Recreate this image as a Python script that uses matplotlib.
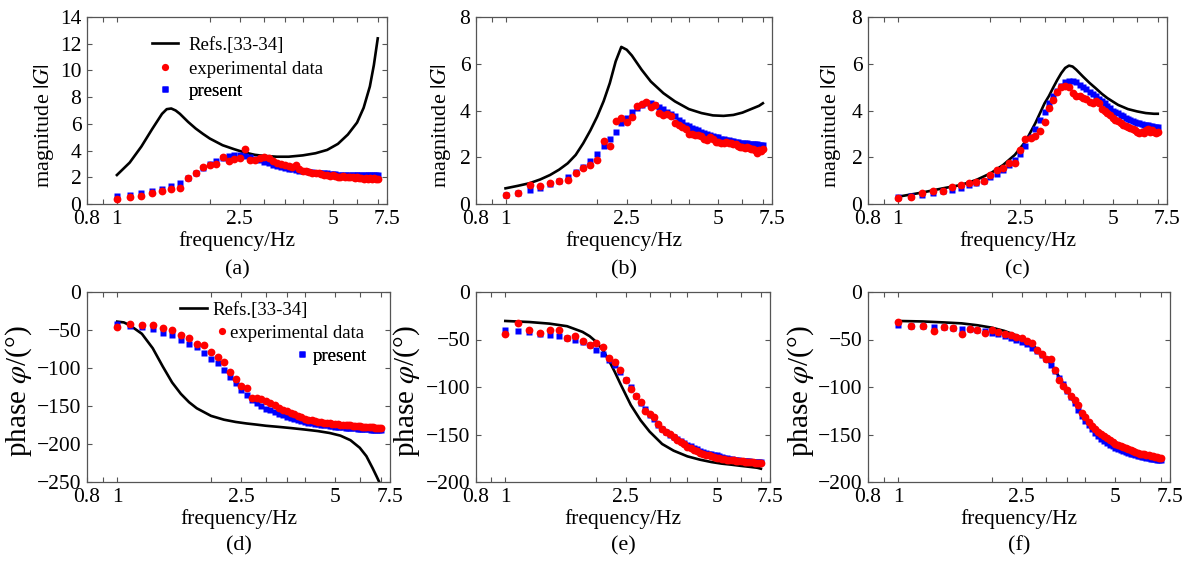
import matplotlib
matplotlib.use('Agg')
import matplotlib.pyplot as plt
from matplotlib.lines import Line2D
from matplotlib.ticker import FixedLocator, NullFormatter

plt.rcParams['font.family'] = ['Liberation Serif', 'DejaVu Serif']
plt.rcParams['mathtext.fontset'] = 'stix'
plt.rcParams['axes.unicode_minus'] = True

# measured frequencies (Hz) of the experimental / present points
freq = [1.0, 1.1, 1.2, 1.3, 1.4, 1.5, 1.6, 1.7, 1.8, 1.9,
        2.0, 2.1, 2.2, 2.3, 2.4, 2.5, 2.6, 2.7, 2.8, 2.9,
        3.0, 3.1, 3.2, 3.3, 3.4, 3.5, 3.6, 3.7, 3.8, 3.9,
        4.0, 4.1, 4.2, 4.3, 4.4, 4.5, 4.6, 4.7, 4.8, 4.9,
        5.0, 5.1, 5.2, 5.3, 5.4, 5.5, 5.6, 5.7, 5.8, 5.9,
        6.0, 6.1, 6.2, 6.3, 6.4, 6.5, 6.6, 6.7, 6.8, 6.9, 7.0]

# ---- (a) magnitude
exp_a = [0.37, 0.50, 0.62, 0.80, 1.00, 1.15, 1.20, 1.95, 2.30, 2.75,
         2.95, 3.00, 3.50, 3.25, 3.40, 3.45, 4.15, 3.30, 3.30, 3.45,
         3.55, 3.45, 3.20, 3.10, 3.00, 2.90, 2.85, 2.80, 2.90, 2.60,
         2.50, 2.45, 2.40, 2.35, 2.35, 2.30, 2.25, 2.20, 2.15, 2.10,
         2.20, 2.10, 2.00, 2.05, 2.10, 2.05, 2.00, 2.05, 2.00, 1.95,
         2.00, 1.95, 1.95, 1.90, 1.95, 1.90, 1.95, 1.90, 1.95, 1.90, 1.90]
pres_a = [0.60, 0.70, 0.80, 0.95, 1.15, 1.35, 1.60, 1.95, 2.30, 2.70,
          3.00, 3.20, 3.45, 3.60, 3.65, 3.65, 3.60, 3.50, 3.40, 3.30,
          3.15, 3.05, 2.95, 2.85, 2.80, 2.70, 2.65, 2.60, 2.55, 2.50,
          2.50, 2.45, 2.40, 2.40, 2.35, 2.35, 2.30, 2.30, 2.30, 2.25,
          2.25, 2.25, 2.20, 2.20, 2.20, 2.20, 2.20, 2.20, 2.20, 2.20,
          2.20, 2.20, 2.20, 2.15, 2.15, 2.15, 2.15, 2.15, 2.15, 2.15, 2.15]
ref_fa = [1.0, 1.1, 1.2, 1.3, 1.4, 1.45, 1.5, 1.55, 1.6, 1.7, 1.8, 1.9, 2.0, 2.2, 2.4,
          2.6, 2.8, 3.0, 3.3, 3.6, 4.0, 4.4, 4.8, 5.2, 5.6, 6.0, 6.3, 6.6, 6.8, 7.0]
ref_a = [2.17, 3.1, 4.3, 5.6, 6.75, 7.1, 7.15, 7.0, 6.75, 6.15, 5.65, 5.25, 4.9, 4.4, 4.1,
         3.85, 3.68, 3.6, 3.54, 3.54, 3.64, 3.8, 4.05, 4.5, 5.2, 6.1, 7.2, 8.8, 10.4, 12.4]

# ---- (b) magnitude
exp_b = [0.39, 0.46, 0.81, 0.79, 0.91, 0.99, 1.03, 1.34, 1.53, 1.67,
         1.89, 2.71, 2.50, 3.53, 3.67, 3.49, 3.71, 4.20, 4.29, 4.36,
         4.15, 4.25, 3.90, 3.80, 3.85, 3.75, 3.45, 3.40, 3.30, 3.20,
         3.00, 3.00, 2.95, 2.95, 2.90, 2.80, 2.75, 2.85, 2.80, 2.65,
         2.65, 2.60, 2.60, 2.65, 2.60, 2.60, 2.55, 2.55, 2.50, 2.45,
         2.45, 2.40, 2.45, 2.40, 2.35, 2.35, 2.30, 2.20, 2.30, 2.25, 2.35]
pres_b = [0.40, 0.48, 0.58, 0.70, 0.85, 1.00, 1.15, 1.35, 1.60, 1.85,
          2.15, 2.50, 2.80, 3.10, 3.45, 3.70, 3.95, 4.10, 4.22, 4.30,
          4.30, 4.25, 4.15, 4.05, 3.95, 3.85, 3.75, 3.60, 3.50, 3.40,
          3.35, 3.25, 3.20, 3.15, 3.10, 3.05, 3.00, 2.95, 2.90, 2.87,
          2.85, 2.80, 2.78, 2.75, 2.72, 2.70, 2.68, 2.66, 2.65, 2.63,
          2.62, 2.60, 2.60, 2.58, 2.57, 2.56, 2.55, 2.55, 2.54, 2.53, 2.53]
ref_fb = [1.0, 1.1, 1.2, 1.3, 1.4, 1.5, 1.6, 1.7, 1.8, 1.9, 2.0, 2.1, 2.2, 2.3, 2.4,
          2.5, 2.6, 2.8, 3.0, 3.3, 3.6, 4.0, 4.4, 4.8, 5.2, 5.6, 6.0, 6.4, 6.8, 7.0]
ref_b = [0.67, 0.78, 0.89, 1.05, 1.24, 1.47, 1.74, 2.1, 2.6, 3.15, 3.74, 4.4, 5.17, 6.1, 6.72,
         6.6, 6.35, 5.74, 5.24, 4.74, 4.39, 4.06, 3.89, 3.79, 3.77, 3.81, 3.91, 4.06, 4.2, 4.31]

# ---- (c) magnitude
exp_c = [0.24, 0.29, 0.49, 0.57, 0.56, 0.74, 0.80, 0.89, 0.96, 0.99,
         1.24, 1.46, 1.53, 1.77, 1.74, 2.29, 2.77, 2.84, 2.89, 3.13,
         3.49, 4.10, 4.46, 4.81, 5.00, 5.05, 5.00, 4.75, 4.60, 4.60,
         4.55, 4.50, 4.35, 4.30, 4.40, 4.30, 4.05, 4.00, 3.90, 3.80,
         3.70, 3.60, 3.55, 3.45, 3.40, 3.35, 3.30, 3.25, 3.20, 3.15,
         3.10, 3.05, 3.10, 3.05, 3.15, 3.20, 3.10, 3.15, 3.10, 3.05, 3.10]
pres_c = [0.30, 0.35, 0.40, 0.48, 0.55, 0.62, 0.70, 0.80, 0.90, 1.00,
          1.15, 1.30, 1.45, 1.65, 1.90, 2.15, 2.50, 2.85, 3.20, 3.60,
          3.95, 4.30, 4.60, 4.85, 5.05, 5.20, 5.25, 5.25, 5.20, 5.10,
          5.00, 4.90, 4.80, 4.70, 4.60, 4.50, 4.40, 4.30, 4.20, 4.10,
          4.00, 3.95, 3.88, 3.82, 3.76, 3.70, 3.65, 3.60, 3.56, 3.52,
          3.48, 3.45, 3.42, 3.40, 3.38, 3.36, 3.34, 3.32, 3.31, 3.30, 3.30]
ref_fc = [1.0, 1.2, 1.4, 1.6, 1.8, 2.0, 2.2, 2.4, 2.6, 2.8, 3.0, 3.1, 3.2, 3.3, 3.4,
          3.5, 3.6, 3.7, 3.8, 4.0, 4.2, 4.4, 4.6, 4.8, 5.2, 5.6, 6.0, 6.4, 6.8, 7.0]
ref_c = [0.31, 0.49, 0.67, 0.81, 1.03, 1.31, 1.67, 2.1, 2.67, 3.46, 4.31, 4.62, 4.98, 5.31, 5.6,
         5.82, 5.92, 5.88, 5.75, 5.45, 5.18, 4.95, 4.72, 4.53, 4.24, 4.06, 3.96, 3.89, 3.86, 3.86]

# ---- (d) phase
exp_d = [-46, -42, -43, -43, -48, -50, -57, -61, -68, -70,
         -79, -85.5, -92, -105, -115, -124, -126, -139, -140, -141,
         -143, -146, -149, -153, -155, -157, -159, -161, -163, -165,
         -167, -168, -169, -170, -171, -171.5, -172, -172.5, -173, -173.5,
         -174, -174, -174.5, -175, -175, -175.5, -175.5, -176, -176, -176.5,
         -176.5, -177, -177, -177.5, -177.5, -178, -178, -178.5, -178.5, -179, -179.5]
pres_d = [-42, -45, -46, -49, -54, -57, -63, -68, -72, -80,
          -88, -94, -103, -112, -120, -129, -136, -142, -146, -150,
          -153.5, -155.5, -157.5, -160, -162, -164, -166, -167.5, -169, -170,
          -171, -172, -173, -173.5, -174, -174.5, -175, -175.5, -176, -176.5,
          -177, -177.5, -177.6, -178, -178.5, -178.7, -179, -179.2, -179.5, -179.7,
          -180, -180.2, -180.4, -180.6, -180.8, -181, -181, -181, -181, -181, -181]
ref_fd = [1.0, 1.05, 1.1, 1.2, 1.3, 1.4, 1.5, 1.6, 1.7, 1.8, 2.0, 2.2, 2.4, 2.6,
          2.8, 3.0, 3.3, 3.6, 4.0, 4.4, 4.8, 5.2, 5.6, 6.0, 6.3, 6.6, 6.8, 7.0]
ref_d = [-39, -40, -44, -55, -74, -98, -119, -134, -145, -153, -163, -168, -171, -173,
         -174.5, -176, -177.5, -179, -181, -183, -185.5, -189, -195, -205, -216, -232, -243, -254]

# ---- (e) phase
exp_e = [-44, -33, -40, -43, -40, -40, -48, -46, -52, -56,
         -54, -58, -69, -74, -82, -93, -102, -109, -116, -125,
         -128, -132, -139, -144, -147, -149, -153, -155.5, -158, -160,
         -163, -164.5, -166, -167.5, -169.5, -170.5, -171.5, -172, -172.6, -173.5,
         -174.5, -175, -175.4, -176, -176.5, -176.8, -177, -177.3, -177.6, -177.8,
         -178, -178.3, -178.6, -178.8, -179, -179.2, -179.4, -179.6, -179.8, -180, -180]
pres_e = [-40, -41, -42, -44, -45, -46, -48, -50, -53, -56,
          -61, -65, -72, -77, -84, -93, -100, -109, -117, -123,
          -129, -134, -140, -144, -147, -150, -153, -155, -157, -159,
          -161, -162.5, -164, -165.5, -167, -168, -169, -170, -171, -171.5,
          -172, -173, -174, -174.5, -175, -175.5, -176, -176.5, -177, -177.2,
          -177.5, -177.7, -178, -178.2, -178.4, -178.6, -178.8, -179, -179, -179, -179]
ref_fe = [1.0, 1.2, 1.4, 1.6, 1.8, 1.9, 2.0, 2.1, 2.2, 2.3, 2.4, 2.5, 2.6,
          2.8, 3.0, 3.3, 3.6, 4.0, 4.4, 4.8, 5.2, 5.6, 6.0, 6.4, 6.8, 7.0]
ref_e = [-30.5, -31.6, -33.3, -36, -42, -46.5, -52.6, -61, -72, -84, -96.5, -108, -119,
         -135, -147, -160, -167, -173, -176.5, -179, -180.7, -181.8, -183, -184, -185, -186]

# ---- (f) phase
exp_f = [-32, -36, -36, -41, -37, -38, -44.6, -38.6, -39.6, -42.8,
         -40, -42, -44.6, -45.6, -47.4, -48, -52, -54, -61, -65,
         -70, -70, -82, -93, -99, -103.5, -109, -114, -119, -127,
         -131.6, -137, -141, -144, -147, -149.5, -152, -154, -156, -158,
         -160, -161, -162, -163.5, -164.5, -165.5, -166.7, -167.5, -168.5, -169,
         -170, -170.5, -171, -171.5, -172, -172.5, -173, -173.3, -173.7, -174.3, -175]
pres_f = [-35, -35.5, -36, -36.5, -37, -38, -38.5, -39, -40, -41.5,
          -43, -44.5, -46, -48, -50, -52.5, -55, -58.5, -62, -66.5,
          -71, -76.5, -83, -90, -97, -104, -110, -117, -124, -130,
          -136, -140, -144, -148, -152, -154.5, -157, -159, -161, -162.5,
          -164, -165, -166.5, -167.5, -168.5, -169.3, -170, -171, -171.5, -172.5,
          -173, -173.5, -174, -174.5, -175, -175.5, -176, -176.3, -176.5, -176.8, -177]
ref_ff = [1.0, 1.2, 1.4, 1.6, 1.8, 2.0, 2.2, 2.4, 2.6, 2.8, 3.0, 3.15, 3.3,
          3.45, 3.6, 3.8, 4.0, 4.2, 4.4, 4.8, 5.2, 5.6, 6.0, 6.4, 6.8, 7.0]
ref_f = [-30.5, -31, -32, -33, -35, -37.5, -41, -45.6, -51, -60, -70, -79, -89.5,
         -100, -110.5, -123, -135, -144, -151, -160, -165.6, -169, -172, -173.7, -175.4, -176]

W, H = 1188, 561
fig = plt.figure(figsize=(W / 100, H / 100), dpi=100)

FS = 15.5
EDGE = '#555555'


def make_axes(l, r, t, b):
    return fig.add_axes([l / W, 1 - b / H, (r - l) / W, (b - t) / H])


def style(ax, ylim, yticks):
    ax.set_xscale('log')
    ax.set_xlim(0.8, 7.5)
    ax.xaxis.set_major_locator(FixedLocator([0.8, 1, 2.5, 5, 7.5]))
    ax.xaxis.set_minor_locator(FixedLocator([0.9, 2, 3, 3.5, 4, 6, 7]))
    ax.set_xticklabels(['0.8', '1', '2.5', '5', '7.5'])
    ax.xaxis.set_minor_formatter(NullFormatter())
    ax.set_ylim(*ylim)
    ax.set_yticks(yticks)
    ax.tick_params(which='both', direction='in', top=True, right=True,
                   length=3.5, width=0.8, color=EDGE, labelsize=FS, pad=4)
    for s in ax.spines.values():
        s.set_color(EDGE)
        s.set_linewidth(0.9)
    ax.set_xlabel('frequency/Hz', fontsize=FS, labelpad=2)


def draw(ax, rf, rv, ev, pv):
    ax.plot(rf, rv, color='black', lw=1.9, zorder=2)
    ax.plot(freq, pv, 's', color='blue', ms=4.6, mec='none', zorder=3)
    ax.plot(freq, ev, 'o', color='red', ms=5.6, mec='none', zorder=4)


def key(ax, handle, label, x, y, hl, pad):
    # x: left edge of the handle, y: row centre (figure pixels)
    leg = ax.legend([handle], [label], loc='center left',
                    bbox_to_anchor=(x / W, 1 - y / H), bbox_transform=fig.transFigure,
                    frameon=False, fontsize=13.5, handlelength=hl, handletextpad=pad,
                    borderpad=0, borderaxespad=0)
    ax.add_artist(leg)


line_h = Line2D([], [], color='black', lw=1.9)
red_h = Line2D([], [], marker='o', color='red', ls='none', ms=5.2, mec='none')
blue_h = Line2D([], [], marker='s', color='blue', ls='none', ms=4.4, mec='none')

top = [(87, 387, 17, 204), (476, 772, 17, 204), (868, 1167, 17, 204)]
bot = [(87, 390, 292, 482), (476, 770, 292, 482), (868, 1170, 292, 482)]
mag = [(ref_fa, ref_a, exp_a, pres_a, (0, 14), range(0, 15, 2)),
       (ref_fb, ref_b, exp_b, pres_b, (0, 8), range(0, 9, 2)),
       (ref_fc, ref_c, exp_c, pres_c, (0, 8), range(0, 9, 2))]
pha = [(ref_fd, ref_d, exp_d, pres_d, (-250, 0), range(-250, 1, 50)),
       (ref_fe, ref_e, exp_e, pres_e, (-200, 0), range(-200, 1, 50)),
       (ref_ff, ref_f, exp_f, pres_f, (-200, 0), range(-200, 1, 50))]
# label anchor = right (descender) side of the rotated text
mag_lx = [-0.103, -0.078, -0.084]
pha_lx = [-0.175, -0.184, -0.172]
caps_top = ['(a)', '(b)', '(c)']
caps_bot = ['(d)', '(e)', '(f)']

for i in range(3):
    ax = make_axes(*top[i])
    rf, rv, ev, pv, yl, yt = mag[i]
    draw(ax, rf, rv, ev, pv)
    style(ax, yl, list(yt))
    ax.set_ylabel('magnitude $|G|$', fontsize=16)
    ax.yaxis.set_label_coords(mag_lx[i], 0.42)
    fig.text((top[i][0] + top[i][1]) / 2 / W, 1 - 270 / H, caps_top[i],
             ha='center', va='center', fontsize=16)
    if i == 0:
        key(ax, line_h, 'Refs.[33-34]', 152, 45, 1.4, 0.55)
        key(ax, red_h, 'experimental data', 152, 69, 1.4, 0.55)
        key(ax, blue_h, 'present', 152, 91, 1.4, 0.55)

    ax = make_axes(*bot[i])
    rf, rv, ev, pv, yl, yt = pha[i]
    draw(ax, rf, rv, ev, pv)
    style(ax, yl, list(yt))
    ax.set_ylabel('phase $\\varphi$/(°)', fontsize=21)
    ax.yaxis.set_label_coords(pha_lx[i], 0.48)
    fig.text((bot[i][0] + bot[i][1]) / 2 / W, 1 - 546 / H, caps_bot[i],
             ha='center', va='center', fontsize=16)
    if i == 0:
        key(ax, line_h, 'Refs.[33-34]', 180, 310, 1.45, 0.3)
        key(ax, red_h, 'experimental data', 216, 333, 0.6, 0.15)
        key(ax, blue_h, 'present', 296, 356, 0.6, 0.3)

fig.savefig('out.png', dpi=100)
